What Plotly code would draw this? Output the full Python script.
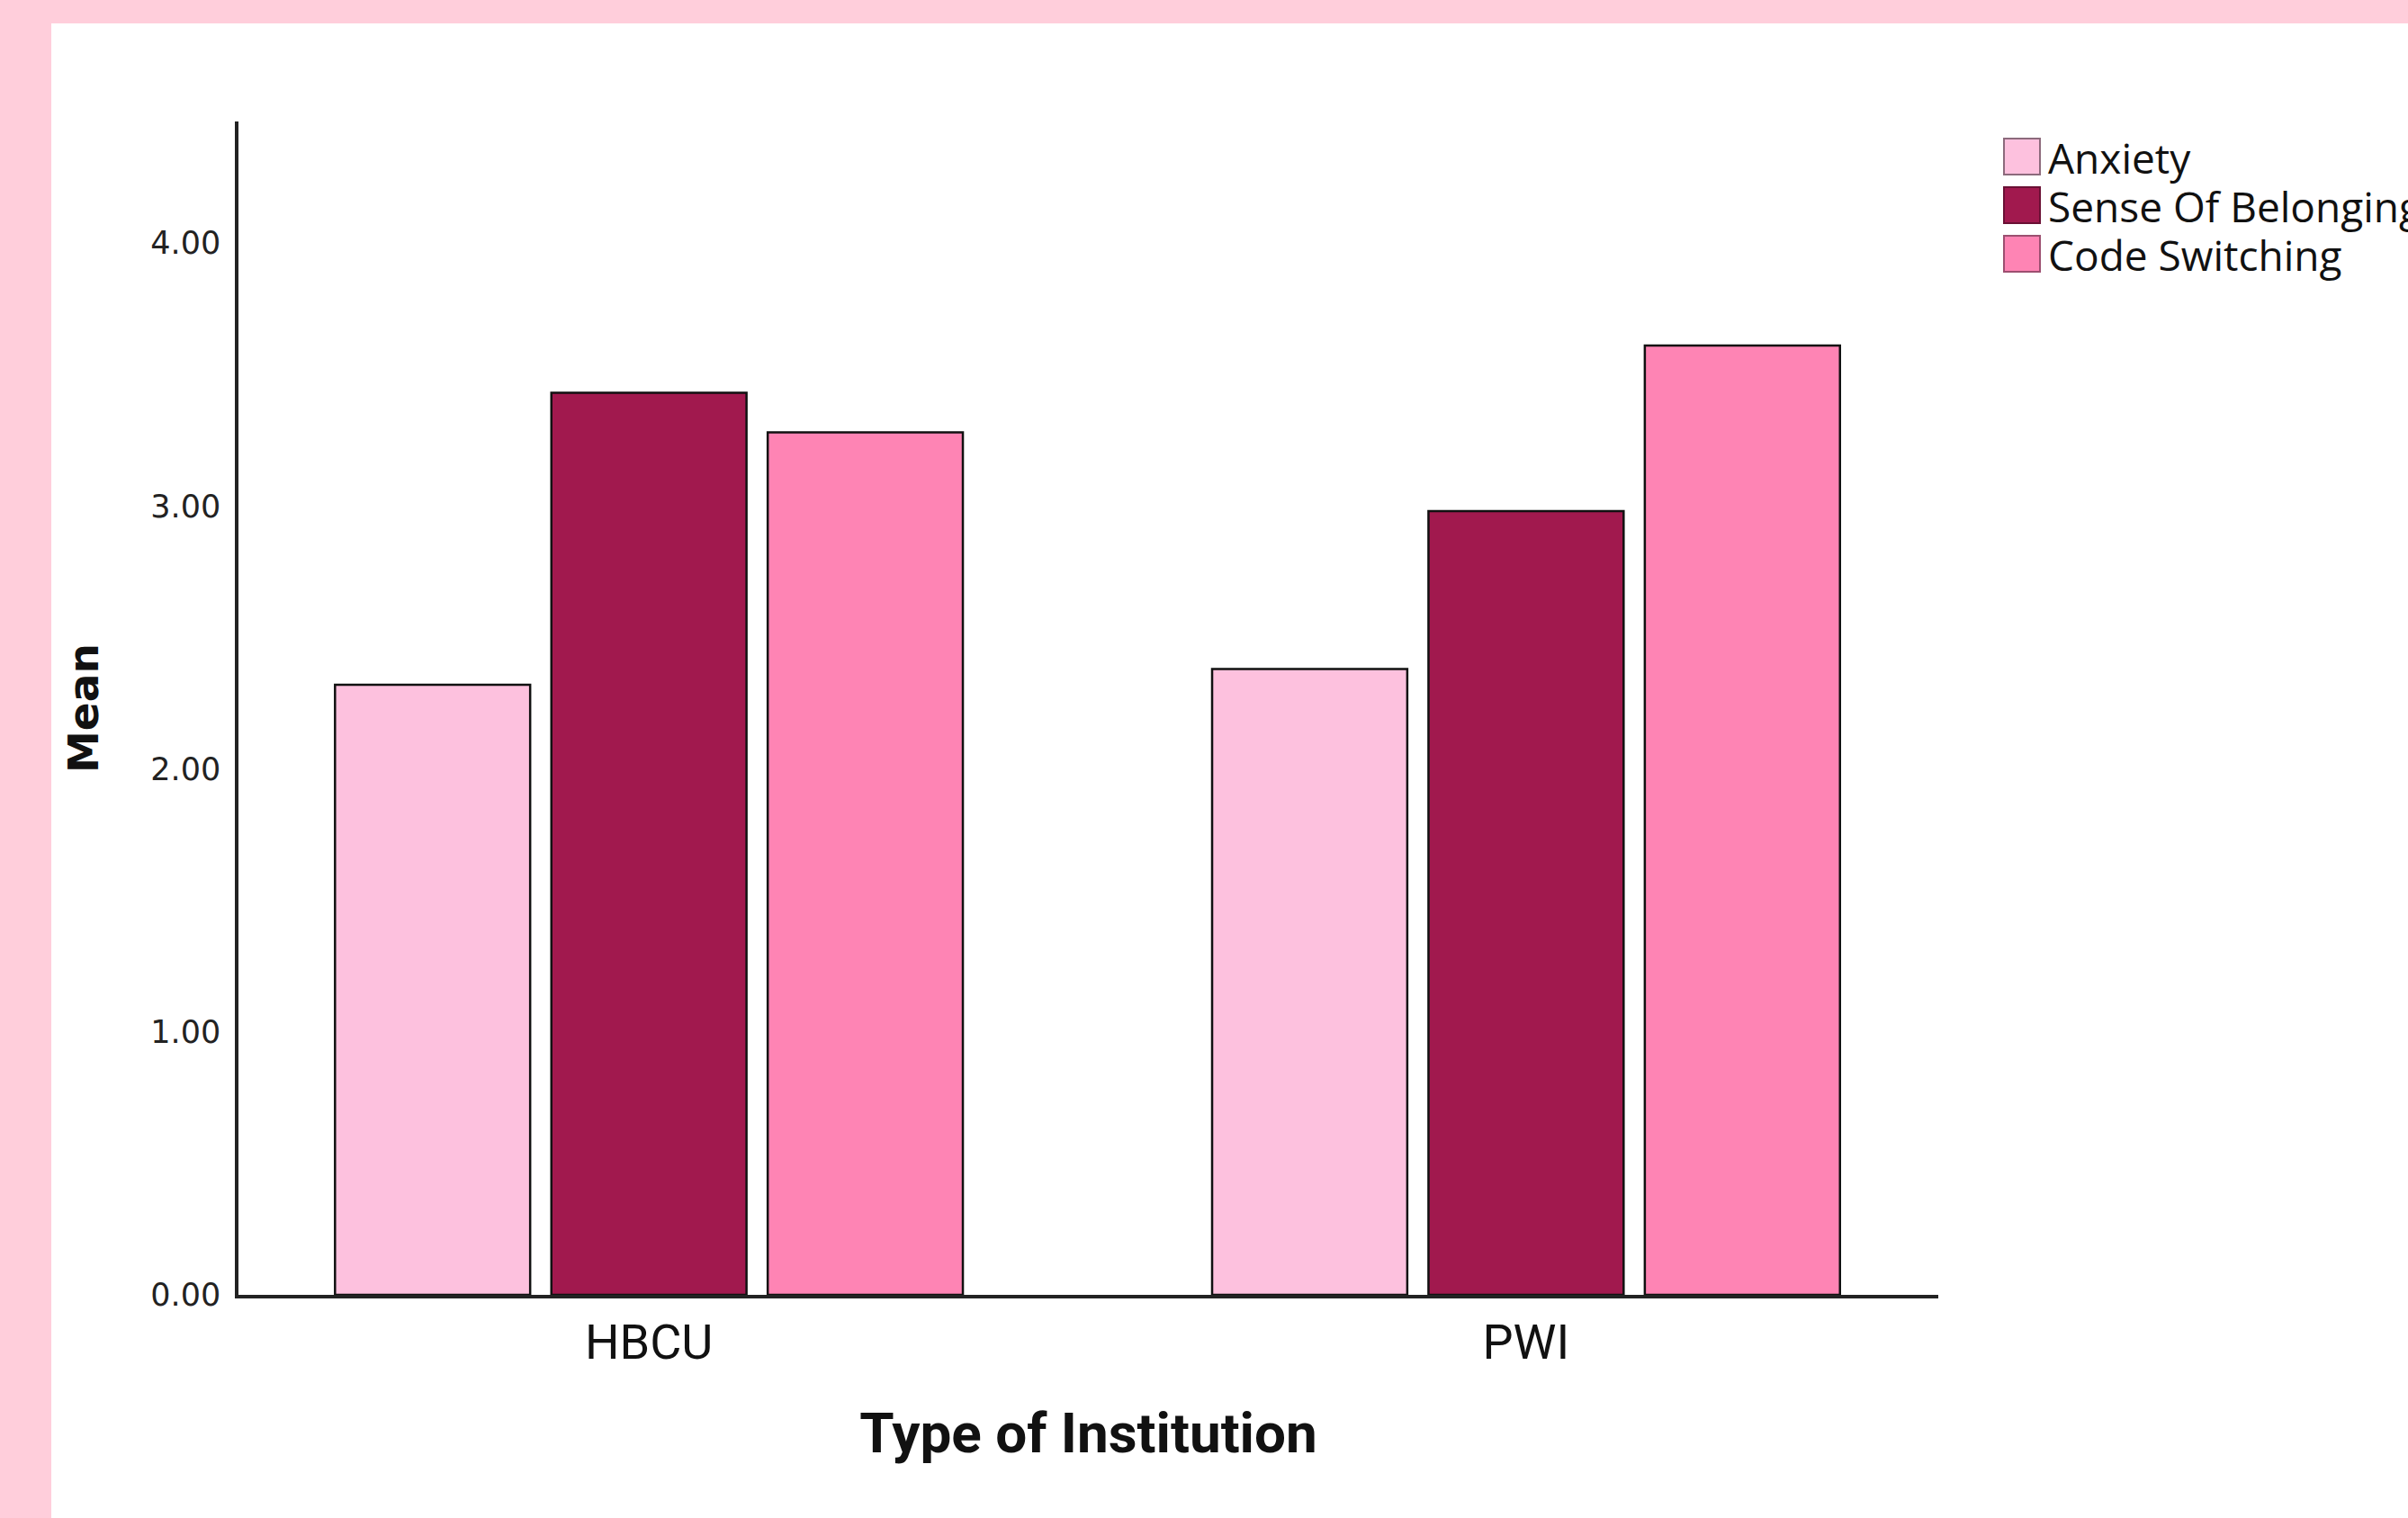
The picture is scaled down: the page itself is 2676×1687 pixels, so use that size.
import plotly.graph_objects as go

# ---- data ----
categories = ["HBCU", "PWI"]
series_names = ["Anxiety", "Sense Of Belonging", "Code Switching"]
anxiety = [2.32, 2.38]
belonging = [3.43, 2.98]
code_switching = [3.28, 3.61]
series_values = [anxiety, belonging, code_switching]
series_colors = ["#FDC1DE", "#A1194E", "#FE84B4"]
legend_borders = ["#8C6A7C", "#6A1034", "#9C4F70"]
y_ticks = [0, 1, 2, 3, 4]
y_tick_labels = ["0.00", "1.00", "2.00", "3.00", "4.00"]

# ---- layout geometry (pixels) ----
W, H = 2676, 1687
L, R, T, B = 265, 2154, 135, 1439
pw, ph = R - L, B - T
PINK = "#FFCEDB"


def px_x(p):
    return (p - L) / pw


def px_y(p):
    return (B - p) / ph


fig = go.Figure()
for name, vals, col in zip(series_names, series_values, series_colors):
    fig.add_trace(go.Bar(
        x=categories, y=vals, name=name,
        marker=dict(color=col, line=dict(color="#111111", width=2.5)),
        showlegend=False,
    ))

shapes = [
    dict(type="rect", xref="paper", yref="paper", layer="below",
         x0=px_x(57), x1=px_x(W + 50), y0=px_y(H + 50), y1=px_y(26),
         fillcolor="white", line=dict(width=0)),
]
annotations = []
row_centers = [174, 228, 282]
for name, col, bcol, yc in zip(series_names, series_colors, legend_borders, row_centers):
    shapes.append(dict(type="rect", xref="paper", yref="paper",
                       x0=px_x(2227), x1=px_x(2267), y0=px_y(yc + 20), y1=px_y(yc - 20),
                       fillcolor=col, line=dict(color=bcol, width=2)))
    annotations.append(dict(xref="paper", yref="paper", x=px_x(2274), y=px_y(yc + 1),
                            xanchor="left", yanchor="middle", showarrow=False, text=name,
                            font=dict(family="Open Sans", size=46, color="#111111")))

fig.update_layout(
    width=W, height=H,
    paper_bgcolor=PINK, plot_bgcolor="white",
    margin=dict(l=L, r=W - R, t=T, b=H - B, autoexpand=False),
    barmode="group", bargap=0.26, bargroupgap=0.098,
    shapes=shapes, annotations=annotations,
    showlegend=False,
    xaxis=dict(
        range=[-0.468, 1.47], showline=True, linecolor="#222222", linewidth=3.5,
        showgrid=False, zeroline=False, ticks="", automargin=False,
        tickfont=dict(family="Roboto", size=54, color="#111111"),
        ticklabelstandoff=2,
        title=dict(text="<b>Type of Institution</b>", standoff=50,
                   font=dict(family="Roboto", size=62, color="#111111")),
    ),
    yaxis=dict(
        range=[0, (B - T) / 292.25], showline=True, linecolor="#222222", linewidth=3.5,
        showgrid=False, zeroline=False, ticks="", automargin=False,
        tickvals=y_ticks, ticktext=y_tick_labels,
        tickfont=dict(family="DejaVu Sans", size=35, color="#222222"),
        ticklabelstandoff=9,
        title=dict(text="<b>Mean</b>", standoff=44,
                   font=dict(family="DejaVu Sans", size=47, color="#111111")),
    ),
)

fig.write_html(
    "out.html",
    config={"displayModeBar": False},
    post_script="document.body.style.margin='0';document.body.style.background='%s';" % PINK,
)
